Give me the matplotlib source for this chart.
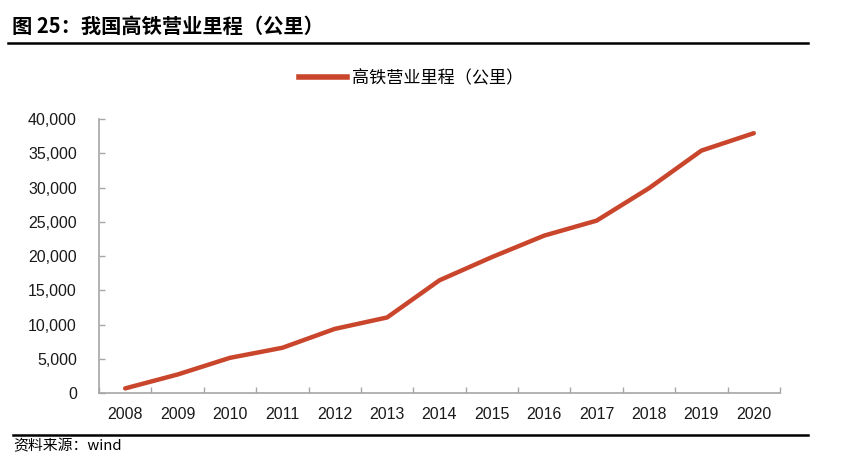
import numpy as np
import matplotlib.pyplot as plt
from matplotlib.lines import Line2D

plt.rcParams['font.family'] = ['Liberation Sans', 'Noto Sans CJK SC', 'DejaVu Sans']

years = ['2008', '2009', '2010', '2011', '2012', '2013', '2014',
         '2015', '2016', '2017', '2018', '2019', '2020']
km = [672, 2699, 5133, 6601, 9356, 11028, 16456,
      19838, 22980, 25164, 29904, 35388, 37929]
yticks = [0, 5000, 10000, 15000, 20000, 25000, 30000, 35000, 40000]

red = '#C9462C'
grey = '#A6A6A6'
cjk = ['Noto Sans CJK SC', 'DejaVu Sans']

fig = plt.figure(figsize=(8.5, 4.65), dpi=100)
ax = fig.add_axes([99/850, 1-393/465, (780-99)/850, (393-119)/465])

x = np.arange(len(years))
ax.plot(x, km, color=red, lw=3.2, solid_capstyle='round', label='高铁营业里程（公里）')

ax.set_xlim(-0.5, len(years) - 0.5)
ax.set_ylim(0, 40000)
ax.set_yticks(yticks)
ax.set_yticklabels([f'{v:,}' for v in yticks])
ax.set_xticks(x)
ax.set_xticklabels(years)
ax.set_xticks(np.arange(len(years) + 1) - 0.5, minor=True)

for s in ['top', 'right']:
    ax.spines[s].set_visible(False)
for s in ['left', 'bottom']:
    ax.spines[s].set_color(grey)
    ax.spines[s].set_linewidth(1.2)

ax.tick_params(axis='x', which='major', length=0, pad=10, labelsize=11.5, labelcolor='#1a1a1a')
ax.tick_params(axis='x', which='minor', direction='in', length=4, color=grey, width=1)
ax.tick_params(axis='y', direction='in', length=4, color=grey, width=1, pad=16,
               labelsize=11.5, labelcolor='#1a1a1a')

# legend at top
h = Line2D([], [], color=red, lw=4)
fig.legend([h], ['高铁营业里程（公里）'], loc='center', bbox_to_anchor=(0.484, 0.832),
           frameon=False, handlelength=2.8, handletextpad=0.3,
           prop={'family': cjk, 'size': 12.3})

# title and rules
fig.text(12/850, 1-26/465, '图 25：我国高铁营业里程（公里）', family=cjk,
         fontsize=14.6, fontweight='bold', va='center', ha='left')
fig.add_artist(Line2D([8/850, 808/850], [1-43.5/465, 1-43.5/465], color='black', lw=1.8))
fig.add_artist(Line2D([13/850, 808/850], [1-435/465, 1-435/465], color='black', lw=1.8))
fig.text(13/850, 1-446/465, '资料来源：wind', family=cjk, fontsize=10.7,
         va='center', ha='left')

fig.savefig('out.png', dpi=100)
